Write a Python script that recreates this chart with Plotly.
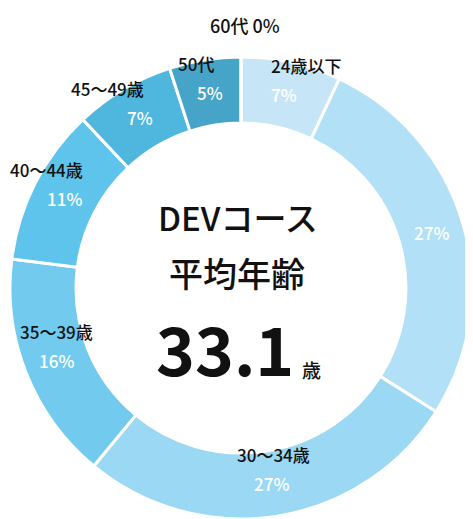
import numpy as np
import plotly.graph_objects as go

# age groups, clockwise from 12 o'clock
ages = ["24歳以下", "25～29歳", "30～34歳", "35～39歳", "40～44歳", "45～49歳", "50代", "60代"]
shown = ["24歳以下", "", "30～34歳", "35～39歳", "40～44歳", "45～49歳", "50代", ""]
share = [7, 27, 27, 16, 11, 7, 5, 0]
colors = ["#c6e6f8", "#b2e0f6", "#9ad8f3", "#72cbee", "#5ec4ec", "#4fb6de", "#46a4c8", "#3f95b8"]
avg_age = "33.1"

W, H = 473, 519
OFF = 8  # default body margin of the page
FONT = "Noto Sans CJK JP"


def px2paper(px, py):
    return (px - OFF) / W, 1 - (py - OFF) / H


# ring spans page pixels x 10..472, y 57..519
x0, y1 = px2paper(10, 57)
x1, y0 = px2paper(472, 519)
hole = 0.714

fig = go.Figure(go.Pie(
    labels=ages, values=share, sort=False, direction="clockwise", rotation=0,
    hole=hole, domain=dict(x=[x0, x1], y=[y0, y1]),
    marker=dict(colors=colors, line=dict(color="white", width=3)),
    textinfo="none", hoverinfo="label+percent", showlegend=False,
))

# pie geometry in page pixels
cx = (10 + 472) / 2
cy = (57 + 519) / 2
R = (472 - 10) / 2
r_mid = R * (1 + hole) / 2

# small horizontal nudges for the category labels
nudge = [22, 0, 2, 0, -18, -33, -14, 0]

annotations = []
ends = np.cumsum(share) / sum(share) * 2 * np.pi
starts = np.concatenate([[0], ends[:-1]])
for i, v in enumerate(share):
    if v == 0:
        continue
    a = (starts[i] + ends[i]) / 2
    ax, ay = px2paper(cx + r_mid * np.sin(a), cy - r_mid * np.cos(a))
    annotations.append(dict(x=ax, y=ay, text=f"{v}%",
                            font=dict(family=FONT, size=17, color="white", weight=500)))
    if shown[i]:
        annotations.append(dict(x=ax, y=ay, text=shown[i], yshift=29, xshift=nudge[i],
                                font=dict(family=FONT, size=17, color="#111111", weight=500)))

# zero slice label above the ring
zx, zy = px2paper(cx + 4, cy - R - 32)
annotations.append(dict(x=zx, y=zy, text=f"{ages[7]} {share[7]}%",
                        font=dict(family=FONT, size=18, color="#111111", weight=500)))

# centre text
for (px, py), txt, size, w in [((238, 217), "DEVコース", 33, 500),
                               ((237, 272), "平均年齢", 34, 500),
                               ((225, 347), f"<b>{avg_age}</b>", 66, 700),
                               ((311, 369), "歳", 19, 500)]:
    tx, ty = px2paper(px, py)
    annotations.append(dict(x=tx, y=ty, text=txt,
                            font=dict(family=FONT, size=size, color="#111111", weight=w)))

for a in annotations:
    a.update(xref="paper", yref="paper", showarrow=False, xanchor="center", yanchor="middle")

fig.update_layout(
    width=W, height=H,
    margin=dict(l=0, r=0, t=0, b=0),
    paper_bgcolor="white", plot_bgcolor="white",
    annotations=annotations,
)

fig.write_html("out.html")
